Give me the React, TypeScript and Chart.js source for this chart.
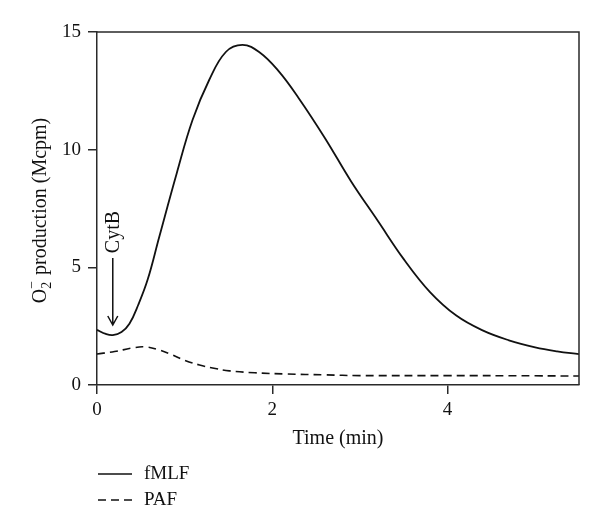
import { useEffect, useRef } from "react";
import { Chart, registerables } from "chart.js";

Chart.register(...registerables);

// ---- data ----
const fmlfTime = [0, 0.1, 0.18, 0.28, 0.37, 0.47, 0.58, 0.71, 0.91, 1.09, 1.28, 1.47, 1.66, 1.85, 2.07, 2.3, 2.6, 2.9, 3.2, 3.5, 3.8, 4.1, 4.4, 4.7, 5.0, 5.25, 5.5];
const fmlfValues = [2.34, 2.17, 2.12, 2.25, 2.6, 3.4, 4.5, 6.29, 9.0, 11.26, 12.96, 14.15, 14.45, 14.15, 13.35, 12.2, 10.5, 8.65, 7.0, 5.35, 3.95, 2.95, 2.32, 1.9, 1.6, 1.43, 1.31];
const pafTime = [0, 0.2, 0.4, 0.54, 0.7, 0.86, 1.0, 1.17, 1.35, 1.51, 1.8, 2.15, 2.6, 3.0, 4.0, 5.0, 5.5];
const pafValues = [1.32, 1.42, 1.57, 1.62, 1.5, 1.28, 1.05, 0.85, 0.7, 0.6, 0.52, 0.47, 0.43, 0.4, 0.4, 0.39, 0.38];
const seriesLabels = ["fMLF", "PAF"];
const xTickValues = [0, 2, 4];
const yTickValues = [0, 5, 10, 15];
const xRange = [0, 5.5];
const yRange = [0, 15];
const xTitle = "Time (min)";
const yTitleParts = { main: "O", sub: "2", sup: "−", rest: " production (Mcpm)" };
const annotationLabel = "CytB";
const annotationTime = 0.18;
const arrowStart = 5.4;
const arrowEnd = 2.55;
const annotationLabelCenter = 6.5;

const INK = "#111";
const AXIS = "#2a2a2a";
const FAMILY = '"Liberation Serif", "Times New Roman", serif';
const FONT_SIZE = 19;

const decor = {
  id: "decor",
  afterDraw(chart: any) {
    const { ctx, chartArea: a, scales } = chart;
    const x = scales.x;
    const y = scales.y;
    ctx.save();

    // top and right frame
    ctx.strokeStyle = AXIS;
    ctx.lineWidth = 1.5;
    ctx.beginPath();
    ctx.moveTo(a.left, a.top);
    ctx.lineTo(a.right, a.top);
    ctx.lineTo(a.right, a.bottom);
    ctx.stroke();

    // y-axis title with stacked sub/superscript
    ctx.fillStyle = INK;
    const big = `${FONT_SIZE}px ${FAMILY}`;
    const titleFont = `20px ${FAMILY}`;
    const small = `14px ${FAMILY}`;
    ctx.font = titleFont;
    const wMain = ctx.measureText(yTitleParts.main).width;
    const wRest = ctx.measureText(yTitleParts.rest).width;
    ctx.font = small;
    const wScript = Math.max(ctx.measureText(yTitleParts.sub).width, ctx.measureText(yTitleParts.sup).width);
    const total = wMain + wScript + 1 + wRest;
    ctx.save();
    ctx.translate(46, (a.top + a.bottom) / 2 + 2);
    ctx.rotate(-Math.PI / 2);
    ctx.textBaseline = "alphabetic";
    ctx.textAlign = "left";
    let cx = -total / 2;
    ctx.font = titleFont;
    ctx.fillText(yTitleParts.main, cx, 0);
    cx += wMain;
    ctx.font = small;
    ctx.fillText(yTitleParts.sub, cx, 5);
    ctx.fillText(yTitleParts.sup, cx, -10);
    cx += wScript + 1;
    ctx.font = titleFont;
    ctx.fillText(yTitleParts.rest, cx, 0);
    ctx.restore();

    // CytB annotation arrow
    const ax = x.getPixelForValue(annotationTime);
    const y1 = y.getPixelForValue(arrowStart);
    const y2 = y.getPixelForValue(arrowEnd);
    ctx.strokeStyle = INK;
    ctx.lineWidth = 1.5;
    ctx.beginPath();
    ctx.moveTo(ax, y1);
    ctx.lineTo(ax, y2);
    ctx.moveTo(ax - 5, y2 - 9);
    ctx.lineTo(ax, y2);
    ctx.lineTo(ax + 5, y2 - 9);
    ctx.stroke();

    ctx.save();
    ctx.translate(ax + 6, y.getPixelForValue(annotationLabelCenter));
    ctx.rotate(-Math.PI / 2);
    ctx.font = titleFont;
    ctx.textAlign = "center";
    ctx.textBaseline = "alphabetic";
    ctx.fillText(annotationLabel, 0, 0);
    ctx.restore();

    // legend below the chart, one entry per row
    const rows = [474, 500];
    chart.data.datasets.forEach((ds: any, i: number) => {
      const ry = rows[i];
      ctx.strokeStyle = INK;
      ctx.lineWidth = 1.6;
      ctx.setLineDash(ds.borderDash || []);
      ctx.beginPath();
      ctx.moveTo(98, ry);
      ctx.lineTo(132, ry);
      ctx.stroke();
      ctx.setLineDash([]);
      ctx.font = big;
      ctx.textAlign = "left";
      ctx.textBaseline = "middle";
      ctx.fillStyle = INK;
      ctx.fillText(ds.label, 144, ry);
    });

    ctx.restore();
  },
};

export default function App() {
  const ref = useRef<HTMLCanvasElement>(null);

  useEffect(() => {
    document.body.style.margin = "0";
    const canvas = ref.current!;
    const font = { family: FAMILY, size: FONT_SIZE };
    const chart = new Chart(canvas, {
      type: "line",
      data: {
        datasets: [
          {
            label: seriesLabels[0],
            data: fmlfTime.map((t, i) => ({ x: t, y: fmlfValues[i] })),
            borderColor: INK,
            borderWidth: 1.8,
            pointRadius: 0,
            tension: 0.4,
            fill: false,
          },
          {
            label: seriesLabels[1],
            data: pafTime.map((t, i) => ({ x: t, y: pafValues[i] })),
            borderColor: INK,
            borderWidth: 1.6,
            borderDash: [8, 5],
            pointRadius: 0,
            tension: 0.4,
            fill: false,
          },
        ],
      },
      options: {
        responsive: false,
        animation: false,
        events: [],
        layout: { padding: { left: 0, top: 32, right: 21, bottom: 0 } },
        plugins: { legend: { display: false }, tooltip: { enabled: false } },
        scales: {
          x: {
            type: "linear",
            min: xRange[0],
            max: xRange[1],
            afterBuildTicks: (s: any) => {
              s.ticks = xTickValues.map((v) => ({ value: v }));
            },
            afterFit: (s: any) => {
              s.height = 147;
            },
            ticks: { padding: 5, font, color: INK, maxRotation: 0 },
            grid: { drawOnChartArea: false, tickLength: 9, color: AXIS, lineWidth: 1.5 },
            border: { color: AXIS, width: 1.5 },
            title: {
              display: true,
              text: xTitle,
              font: { family: FAMILY, size: 20 },
              color: INK,
              padding: { top: 0, bottom: 81 },
            },
          },
          y: {
            type: "linear",
            min: yRange[0],
            max: yRange[1],
            afterBuildTicks: (s: any) => {
              s.ticks = yTickValues.map((v) => ({ value: v }));
            },
            afterFit: (s: any) => {
              s.width = 97;
            },
            ticks: { padding: 7, font, color: INK },
            grid: { drawOnChartArea: false, tickLength: 9, color: AXIS, lineWidth: 1.5 },
            border: { color: AXIS, width: 1.5 },
          },
        },
      },
      plugins: [decor],
    } as any);
    return () => chart.destroy();
  }, []);

  return (
    <div style={{ width: 600, height: 532, background: "#fff" }}>
      <canvas ref={ref} width={600} height={532} style={{ display: "block" }} />
    </div>
  );
}
